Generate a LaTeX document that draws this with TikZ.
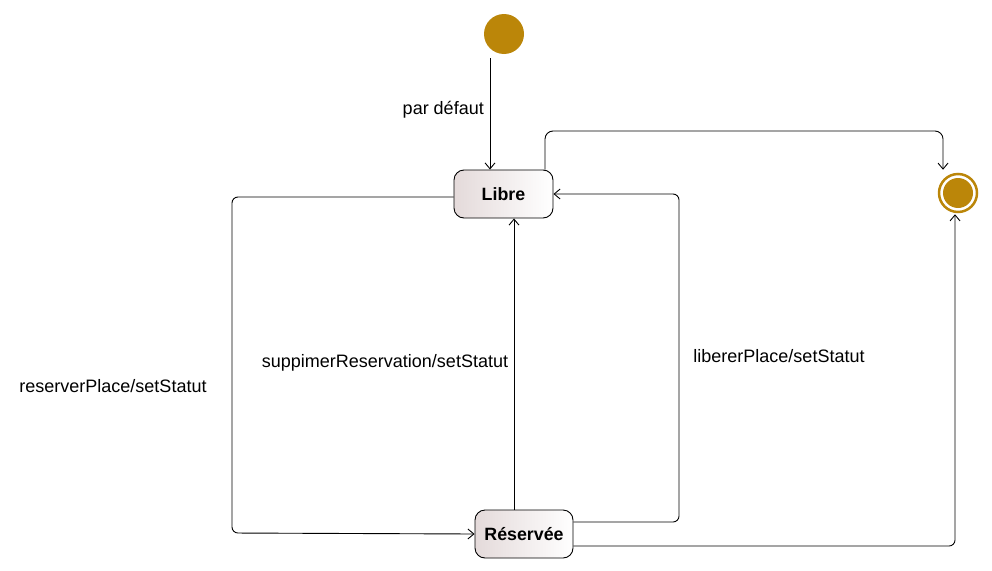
\documentclass[tikz,border=0pt]{standalone}
\usepackage{fontspec}
\setmainfont{Liberation Sans}
\usetikzlibrary{arrows.meta,calc}
\definecolor{gold}{RGB}{187,134,9}
\definecolor{stfill}{RGB}{228,218,218}
\tikzset{
  arr/.style={draw=black, line width=0.9pt, -{Straight Barb[length=6pt,width=10pt]}},
  state/.style={draw=black, line width=0.9pt, rounded corners=10pt, minimum width=99pt, minimum height=48pt,
     left color=stfill, right color=white, font=\fontsize{17.8}{20}\selectfont\bfseries, inner sep=0pt},
  lbl/.style={font=\fontsize{18}{20}\selectfont, inner sep=0pt},
}
\begin{document}
\begin{tikzpicture}[x=1pt,y=-1pt]
\path[use as bounding box] (0,0) rectangle (992,570);
\node[circle, fill=gold, minimum size=40pt, inner sep=0pt] (init) at (504,34) {};
\node[state] (libre) at (503.5,194) {Libre};
\node[state, minimum width=98pt] (res) at (524,534) {Réservée};
\node[circle, draw=gold, line width=2.5pt, minimum size=38pt, inner sep=0pt] (fin) at (958,193) {};
\node[circle, fill=gold, minimum size=30pt, inner sep=0pt] (fininner) at (fin.center) {};
\coordinate (vinit) at (490,0);
\coordinate (vmid) at (514,0);
\coordinate (ctop) at (943,131);
\coordinate (cleft) at (232,533);
\coordinate (cright) at (679,300);
\draw[arr] ([yshift=-4pt]init.south -| vinit) -- (libre.north -| vinit);
\node[lbl, anchor=east] (l1) at (484,110) {par défaut};
\draw[arr, rounded corners=8pt] ([xshift=41.5pt]libre.north) |- (ctop) -- ([xshift=-15pt,yshift=3pt]fin.north);
\draw[arr, rounded corners=6pt] ([yshift=-3pt]libre.west) -| (cleft) -- (res.west);
\node[lbl] (l2) at (113,386) {reserverPlace/setStatut};
\draw[arr] (res.north -| vmid) -- (libre.south -| vmid);
\node[lbl] (l3) at (385,363) {suppimerReservation/setStatut};
\draw[arr, rounded corners=6pt] ([yshift=12pt]res.east) -| (cright) |- (libre.east);
\node[lbl] (l4) at (779,356) {libererPlace/setStatut};
\draw[arr, rounded corners=6pt] ([yshift=-12pt]res.east) -| ([xshift=-3pt,yshift=-1pt]fin.south);
\end{tikzpicture}
\end{document}
